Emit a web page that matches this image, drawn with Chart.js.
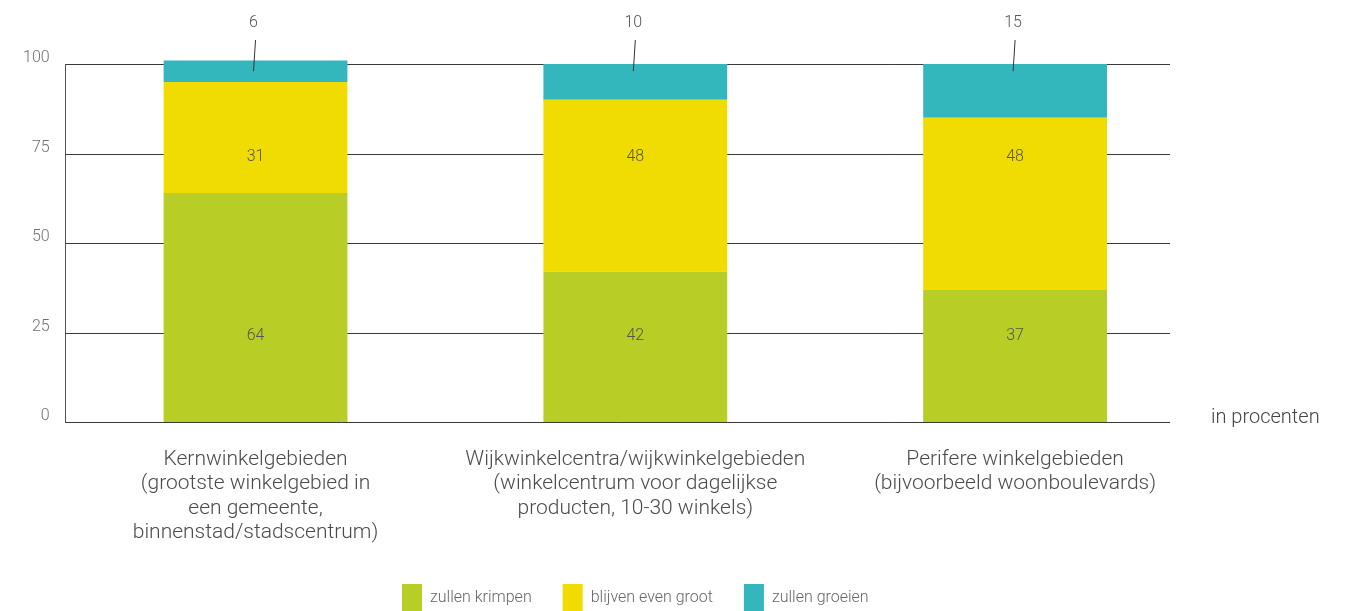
<!DOCTYPE html>
<html>
<head>
<meta charset="utf-8">
<script src="https://cdn.jsdelivr.net/npm/chart.js@4"></script>
<style>
  html, body { margin: 0; padding: 0; background: #fff; overflow: hidden; }
  #wrap { position: relative; width: 1351px; height: 621px; }
</style>
</head>
<body>
<div id="wrap"><canvas id="chart"></canvas></div>
<script>
var categories = [
    ['Kernwinkelgebieden', '(grootste winkelgebied in', 'een gemeente,', 'binnenstad/stadscentrum)'],
    ['Wijkwinkelcentra/wijkwinkelgebieden', '(winkelcentrum voor dagelijkse', 'producten, 10-30 winkels)'],
    ['Perifere winkelgebieden', '(bijvoorbeeld woonboulevards)']
];
var krimpen = [64, 42, 37];
var evenGroot = [31, 48, 48];
var groeien = [6, 10, 15];
var yTicks = [0, 25, 50, 75, 100];
var unitLabel = 'in procenten';

var FONT = 'Roboto, "Noto Sans", sans-serif';

// horizontal grid lines stop a little before the right edge of the plot
var gridPlugin = {
    id: 'shortGrid',
    beforeDatasetsDraw: function(chart) {
        var ctx = chart.ctx, area = chart.chartArea, y = chart.scales.y;
        ctx.save();
        ctx.strokeStyle = '#3a3a3a';
        ctx.lineWidth = 1;
        yTicks.forEach(function(v) {
            var py = Math.round(y.getPixelForValue(v)) + 0.5;
            ctx.beginPath();
            ctx.moveTo(area.left, py);
            ctx.lineTo(area.right - 35, py);
            ctx.stroke();
        });
        ctx.restore();
    }
};

var labelPlugin = {
    id: 'barLabels',
    afterDatasetsDraw: function(chart) {
        var ctx = chart.ctx, area = chart.chartArea, y = chart.scales.y;
        var bars = chart.getDatasetMeta(0).data;
        ctx.save();
        ctx.fillStyle = '#555';
        ctx.font = '300 16px ' + FONT;
        ctx.textAlign = 'center';
        ctx.textBaseline = 'middle';
        bars.forEach(function(bar, i) {
            var cx = bar.x;
            ctx.fillText(String(krimpen[i]), cx, y.getPixelForValue(25) + 3);
            ctx.fillText(String(evenGroot[i]), cx, y.getPixelForValue(75) + 3);
            ctx.fillText(String(groeien[i]), cx - 2, area.top - 41);
            ctx.strokeStyle = '#333';
            ctx.lineWidth = 1;
            ctx.beginPath();
            ctx.moveTo(cx, area.top - 24);
            ctx.lineTo(cx - 2, y.getPixelForValue(98));
            ctx.stroke();
        });
        ctx.fillStyle = '#444';
        ctx.font = '300 20px ' + FONT;
        ctx.textAlign = 'left';
        ctx.fillText(unitLabel, area.right + 6, y.getPixelForValue(0) - 4);
        ctx.restore();
    }
};

new Chart(document.getElementById('chart').getContext('2d'), {
    type: 'bar',
    data: {
        labels: categories,
        datasets: [
            { label: 'zullen krimpen', data: krimpen, backgroundColor: '#b8cd25' },
            { label: 'blijven even groot', data: evenGroot, backgroundColor: '#f0dc00' },
            { label: 'zullen groeien', data: groeien, backgroundColor: '#33b7bd' }
        ]
    },
    options: {
        responsive: true,
        maintainAspectRatio: false,
        animation: false,
        layout: { padding: { left: 7, right: 146, top: 64, bottom: 0 } },
        datasets: {
            bar: { barPercentage: 0.484, categoryPercentage: 1, clip: false, borderWidth: 0 }
        },
        scales: {
            x: {
                stacked: true,
                grid: { display: false, drawTicks: false },
                border: { display: false },
                afterFit: function(scale) { scale.height = 131; },
                ticks: {
                    color: '#4a4a4a',
                    font: { family: FONT, size: 21, weight: '300', lineHeight: 1.15 },
                    padding: 26,
                    maxRotation: 0,
                    autoSkip: false
                }
            },
            y: {
                stacked: true,
                min: 0,
                max: 100,
                afterBuildTicks: function(scale) {
                    scale.ticks = yTicks.map(function(v) { return { value: v }; });
                },
                grid: { display: false, drawTicks: false },
                border: { display: true, color: '#555', width: 1 },
                ticks: {
                    color: '#707070',
                    font: { family: FONT, size: 16, weight: '300' },
                    padding: 16,
                    labelOffset: -6
                }
            }
        },
        plugins: {
            legend: {
                position: 'bottom',
                fullSize: false,
                labels: {
                    boxWidth: 20,
                    boxHeight: 27,
                    padding: 31,
                    color: '#666',
                    font: { family: FONT, size: 16, weight: '300' }
                }
            },
            tooltip: { enabled: false }
        }
    },
    plugins: [gridPlugin, labelPlugin]
});
</script>
</body>
</html>
